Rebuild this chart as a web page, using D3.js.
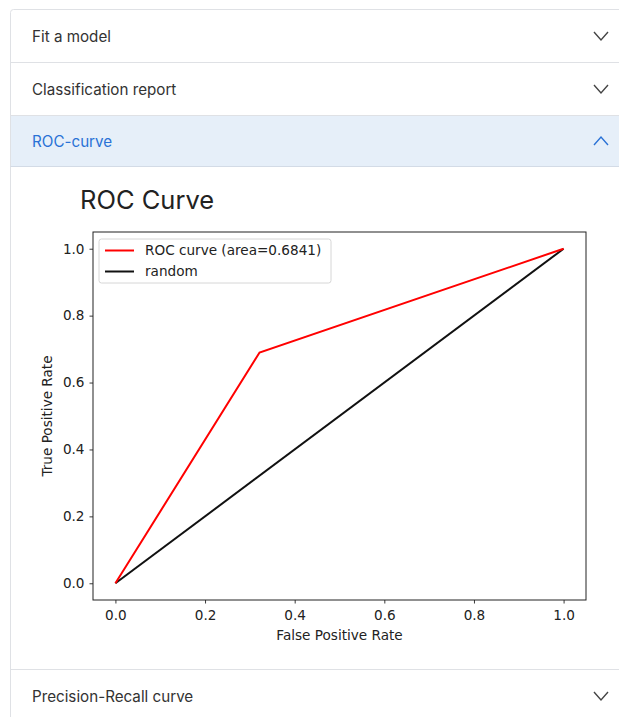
<!DOCTYPE html>
<html>
<head>
<meta charset="utf-8">
<script src="https://cdn.jsdelivr.net/npm/d3@7"></script>
<style>
  html, body { margin: 0; padding: 0; background: #fff; }
  body { width: 619px; height: 717px; overflow: hidden; position: relative; }
  svg { display: block; }
</style>
</head>
<body>
<svg id="page" width="619" height="717"></svg>
<script>
// Accordion sections of the report page
const sections = ["Fit a model", "Classification report", "ROC-curve", "Precision-Recall curve"];
const openSection = "ROC-curve";

// ROC curve points (false positive rate, true positive rate)
const rocFpr = [0, 0.3216, 1];
const rocTpr = [0, 0.6898, 1];
const rocArea = 0.6841;

// Chance diagonal
const randomFpr = [0, 1];
const randomTpr = [0, 1];

// Tick values
const xTicks = [0, 0.2, 0.4, 0.6, 0.8, 1.0];
const yTicks = [0, 0.2, 0.4, 0.6, 0.8, 1.0];

const svg = d3.select("#page");
const pageFont = "Inter, Roboto, 'Helvetica Neue', Arial, sans-serif";
const plotFont = "'DejaVu Sans', sans-serif";
const plotFontSize = 13.6;

// ---- accordion frame ----
const frameLeft = 10.5, frameTop = 9.5;
const headerTops = [9.5, 62.5, 115.5, 669.5];
const headerH = [53, 53, 51, 53];

svg.append("rect").attr("x", frameLeft).attr("y", frameTop)
  .attr("width", 700).attr("height", 800)
  .attr("fill", "#fff").attr("stroke", "#dfe1e5").attr("rx", 3);

sections.forEach((name, i) => {
  const y0 = headerTops[i];
  const isOpen = name === openSection;
  if (isOpen) {
    svg.append("rect").attr("x", frameLeft + 0.5).attr("y", y0)
      .attr("width", 619).attr("height", headerH[i])
      .attr("fill", "#e6eff9");
  }
  if (i > 0) {
    svg.append("line").attr("x1", frameLeft).attr("x2", 619)
      .attr("y1", y0).attr("y2", y0).attr("stroke", "#dfe1e5");
  }
  if (isOpen) {
    svg.append("line").attr("x1", frameLeft).attr("x2", 619)
      .attr("y1", y0 + headerH[i]).attr("y2", y0 + headerH[i]).attr("stroke", "#d3dbe6");
  }
  const cy = y0 + headerH[i] / 2;
  svg.append("text").attr("x", 32).attr("y", cy + 5.5)
    .attr("font-family", pageFont).attr("font-size", 15.2)
    .attr("fill", isOpen ? "#2a72d6" : "#333")
    .text(name);
  // chevron
  const cx = 601, h = 4.5, w = 7;
  const pts = isOpen
    ? [[cx - w, cy + h - 0.5], [cx, cy - h + 0.5], [cx + w, cy + h - 0.5]]
    : [[cx - w, cy - h + 0.5], [cx, cy + h - 0.5], [cx + w, cy - h + 0.5]];
  svg.append("path").attr("d", d3.line()(pts))
    .attr("fill", "none").attr("stroke", isOpen ? "#2a72d6" : "#444")
    .attr("stroke-width", 1.4);
});

// ---- chart title ----
svg.append("text").attr("x", 80).attr("y", 209)
  .attr("font-family", pageFont).attr("font-size", 25.5).attr("fill", "#222")
  .text("ROC Curve");

// ---- plot ----
const plot = { left: 93, right: 586, top: 232, bottom: 600 };
const x = d3.scaleLinear().domain([-0.05, 1.05]).range([plot.left, plot.right]);
const y = d3.scaleLinear().domain([-0.05, 1.05]).range([plot.bottom, plot.top]);

const g = svg.append("g");

const xAxis = g.append("g").attr("transform", `translate(0,${plot.bottom})`)
  .call(d3.axisBottom(x).tickValues(xTicks).tickFormat(d3.format(".1f")).tickSize(3.5).tickPadding(5));
const yAxis = g.append("g").attr("transform", `translate(${plot.left},0)`)
  .call(d3.axisLeft(y).tickValues(yTicks).tickFormat(d3.format(".1f")).tickSize(3.5).tickPadding(5));

[xAxis, yAxis].forEach(a => {
  a.select(".domain").remove();
  a.selectAll(".tick line").attr("stroke", "#222").attr("stroke-width", 0.9);
  a.selectAll(".tick text").attr("font-family", plotFont).attr("font-size", plotFontSize).attr("fill", "#222");
});
xAxis.selectAll(".tick text").attr("dy", "0.85em");

const lineGen = d3.line().x(d => x(d[0])).y(d => y(d[1]));

g.append("path").datum(d3.zip(randomFpr, randomTpr))
  .attr("d", lineGen).attr("fill", "none").attr("stroke", "#111").attr("stroke-width", 2);
g.append("path").datum(d3.zip(rocFpr, rocTpr))
  .attr("d", lineGen).attr("fill", "none").attr("stroke", "#ff0000").attr("stroke-width", 2);

// frame
g.append("rect").attr("x", plot.left).attr("y", plot.top)
  .attr("width", plot.right - plot.left).attr("height", plot.bottom - plot.top)
  .attr("fill", "none").attr("stroke", "#222").attr("stroke-width", 1);

// axis titles
g.append("text").attr("x", (plot.left + plot.right) / 2).attr("y", 639.5)
  .attr("text-anchor", "middle").attr("font-family", plotFont).attr("font-size", plotFontSize).attr("fill", "#222")
  .text("False Positive Rate");
g.append("text").attr("transform", `translate(52,${(plot.top + plot.bottom) / 2}) rotate(-90)`)
  .attr("text-anchor", "middle").attr("font-family", plotFont).attr("font-size", plotFontSize).attr("fill", "#222")
  .text("True Positive Rate");

// legend
const legendItems = [
  { label: `ROC curve (area=${rocArea.toFixed(4)})`, color: "#ff0000" },
  { label: "random", color: "#111" }
];
const lg = g.append("g").attr("transform", "translate(99,239)");
lg.append("rect").attr("width", 232).attr("height", 44).attr("rx", 2.5)
  .attr("fill", "#fff").attr("fill-opacity", 0.8).attr("stroke", "#d6d6d6");
legendItems.forEach((it, i) => {
  const yy = 11.5 + i * 21;
  lg.append("line").attr("x1", 6).attr("x2", 35).attr("y1", yy).attr("y2", yy)
    .attr("stroke", it.color).attr("stroke-width", 2);
  lg.append("text").attr("x", 46).attr("y", yy + 4.8)
    .attr("font-family", plotFont).attr("font-size", plotFontSize).attr("fill", "#222")
    .text(it.label);
});
</script>
</body>
</html>
